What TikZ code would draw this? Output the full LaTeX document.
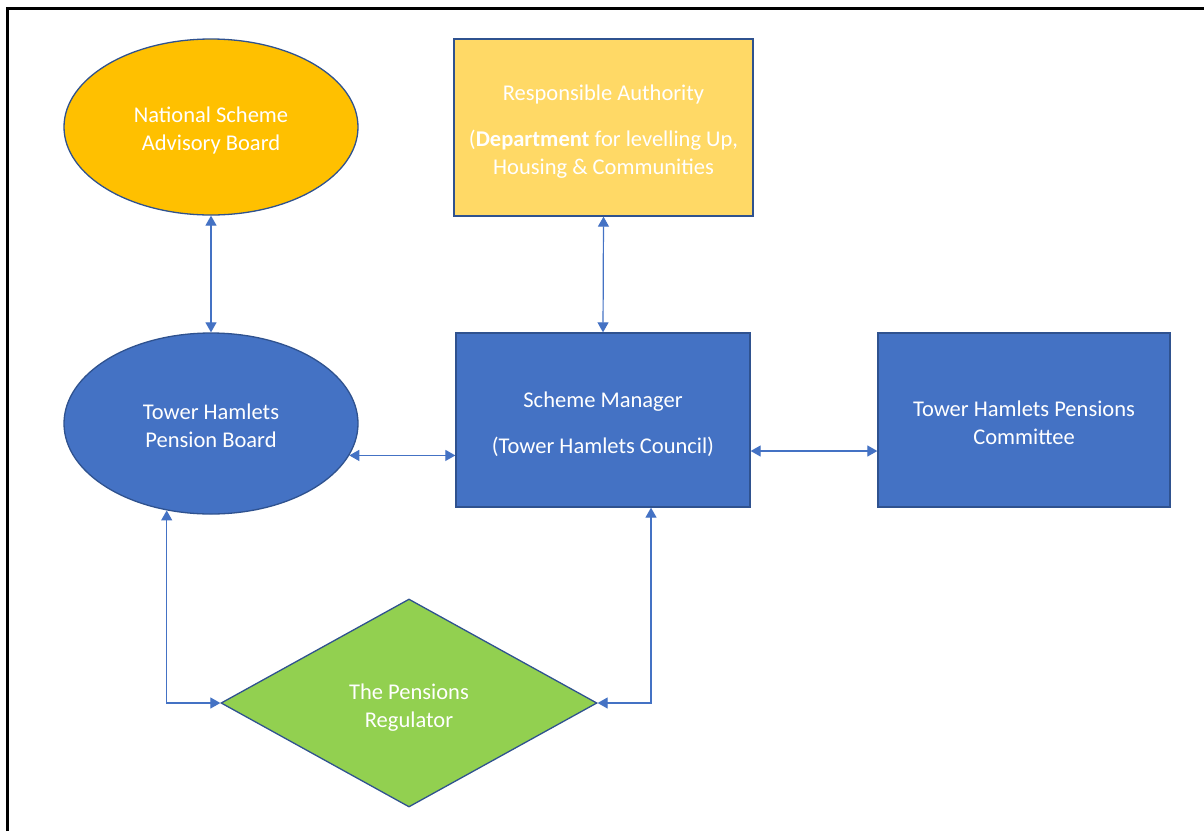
\documentclass[tikz,border=0pt]{standalone}
\usepackage{fontspec}
\setmainfont{Carlito}
\usetikzlibrary{shapes.geometric,arrows.meta,calc}
\definecolor{gold}{HTML}{FFC000}
\definecolor{lightgold}{HTML}{FFD966}
\definecolor{mblue}{HTML}{4472C4}
\definecolor{dblue}{HTML}{2F528F}
\definecolor{mgreen}{HTML}{92D050}
\begin{document}
\begin{tikzpicture}[x=1pt,y=-1pt,
  shapebox/.style={draw=dblue,line width=1.3pt,inner sep=0pt},
  ell/.style={shapebox,ellipse},
  rectbox/.style={shapebox,rectangle},
  dia/.style={shapebox,diamond},
  txt/.style={text=white,align=center,inner sep=0pt,font=\fontsize{22.5}{28}\selectfont},
  arr/.style={draw=mblue,line width=1.2pt,{Triangle[length=10pt,width=11pt]}-{Triangle[length=10pt,width=11pt]}}
]
\useasboundingbox (0,0) rectangle (1204,831);
\fill[white] (0,0) rectangle (1204,831);
\draw[line width=3pt] (7.5,831) -- (7.5,8.5) -- (1204,8.5);

\node[ell,fill=gold,minimum width=294pt,minimum height=176pt] (nsab) at (211,127) {};
\node[txt] (nsabt) at ([yshift=-3pt]nsab.center) {National Scheme\\Advisory Board};
\node[rectbox,fill=lightgold,minimum width=299pt,minimum height=177pt] (ra) at (603.5,127.5) {};
\node[txt] (rat) at ([yshift=-4pt]ra.center) {Responsible Authority\\[18pt](\textbf{Department} for levelling Up,\\Housing \& Communities};
\node[ell,fill=mblue,minimum width=294pt,minimum height=181pt] (thpb) at (211,423.5) {};
\node[txt] (thpbt) at ([yshift=-2.5pt]thpb.center) {Tower Hamlets\\Pension Board};
\node[rectbox,fill=mblue,minimum width=294pt,minimum height=174pt] (sm) at (603,420) {};
\node[txt] (smt) at ([yshift=-4.5pt]sm.center) {Scheme Manager\\[18pt](Tower Hamlets Council)};
\node[rectbox,fill=mblue,minimum width=292pt,minimum height=174pt] (thpc) at (1024,420) {};
\node[txt] (thpct) at ([yshift=-2.5pt]thpc.center) {Tower Hamlets Pensions\\Committee};
\node[dia,fill=mgreen,minimum width=376pt,minimum height=208pt] (tpr) at (409,703) {};
\node[txt] (tprt) at ([yshift=-4.5pt]tpr.center) {The Pensions\\Regulator};

\draw[arr] (nsab.south) -- (thpb.north);
\draw[arr] (ra.south) -- (sm.north);
\draw[arr] (thpb.-13) -- (thpb.-13 -| sm.west);
\coordinate (smr) at ($(sm.east)+(0,31)$);
\draw[arr] (smr) -- (smr -| thpc.west);
\draw[arr] (thpb.-117.7) |- (tpr.west);
\draw[arr] ([xshift=48pt]sm.south) |- (tpr.east);
\end{tikzpicture}
\end{document}
